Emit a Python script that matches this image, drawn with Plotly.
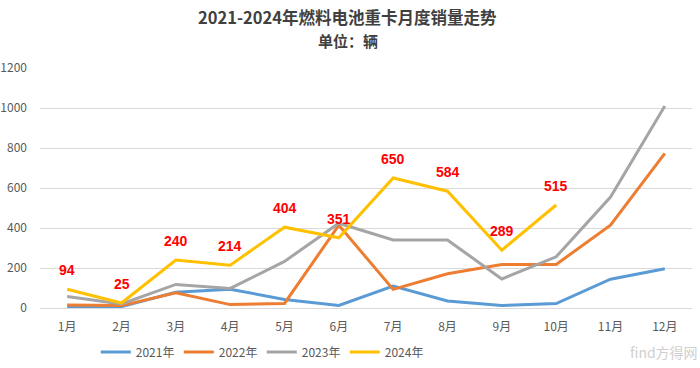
import plotly.graph_objects as go

months = ["1月", "2月", "3月", "4月", "5月", "6月", "7月", "8月", "9月", "10月", "11月", "12月"]
s2021 = [3, 7, 79, 94, 43, 13, 110, 35, 13, 22, 144, 196]
s2022 = [15, 12, 76, 17, 23, 414, 93, 171, 217, 218, 414, 773]
s2023 = [57, 20, 118, 98, 233, 424, 340, 340, 145, 256, 555, 1010]
s2024 = [94, 25, 240, 214, 404, 351, 650, 584, 289, 515]
series_names = ["2021年", "2022年", "2023年", "2024年"]
colors = ["#5B9BD5", "#ED7D31", "#A5A5A5", "#FFC000"]
y_ticks = [0, 200, 400, 600, 800, 1000, 1200]

font_cjk = "Noto Sans CJK SC"
fig = go.Figure()
for name, vals, c in zip(series_names, [s2021, s2022, s2023, s2024], colors):
    fig.add_trace(go.Scatter(
        x=months[:len(vals)], y=vals, name=name, mode="lines",
        line=dict(color=c, width=3), hoverinfo="x+y"))

for m, v in zip(months, s2024):
    fig.add_annotation(x=m, y=v, text=str(v), showarrow=False, yshift=19,
                       font=dict(family="Liberation Sans, Arial", size=14, color="#FF0000", weight="bold"))

fig.add_annotation(xref="paper", yref="paper", x=0.472, y=1, yshift=51, xanchor="center", yanchor="middle",
                   text="2021-2024年燃料电池重卡月度销量走势", showarrow=False,
                   font=dict(family=font_cjk, size=16.5, color="#404040", weight="bold"))
fig.add_annotation(xref="paper", yref="paper", x=0.472, y=1, yshift=28, xanchor="center", yanchor="middle",
                   text="单位：辆", showarrow=False,
                   font=dict(family=font_cjk, size=15, color="#404040", weight="bold"))
fig.add_annotation(xref="paper", yref="paper", x=1.0, y=0, yshift=-44, xshift=8, xanchor="right",
                   yanchor="middle", text="find方得网", showarrow=False,
                   font=dict(family=font_cjk, size=14, color="#CFCFCF"))

fig.update_layout(
    width=700, height=368,
    margin=dict(l=40, r=8, t=68, b=60),
    paper_bgcolor="white", plot_bgcolor="white",
    font=dict(family=font_cjk, size=12, color="#595959"),
    showlegend=True,
    legend=dict(orientation="h", x=0.374, xref="container", xanchor="center",
                y=0.0435, yref="container", yanchor="middle",
                font=dict(size=12, color="#595959"), itemwidth=30,
                entrywidth=38, entrywidthmode="pixels"),
    xaxis=dict(categoryorder="array", categoryarray=months, showgrid=False,
               showline=False, ticks="", tickfont=dict(size=12, color="#595959"),
               range=[-0.5, 11.5], automargin=False, ticklabelstandoff=10),
    yaxis=dict(range=[0, 1200], tickvals=y_ticks, showgrid=True, gridcolor="#D9D9D9",
               gridwidth=1, zeroline=True, zerolinecolor="#D9D9D9", zerolinewidth=1,
               showline=False, tickfont=dict(size=12, color="#595959"),
               ticklabelstandoff=12, automargin=False),
)
fig.write_html("out.html", config={"displayModeBar": False},
               post_script="document.body.style.margin='0';")
